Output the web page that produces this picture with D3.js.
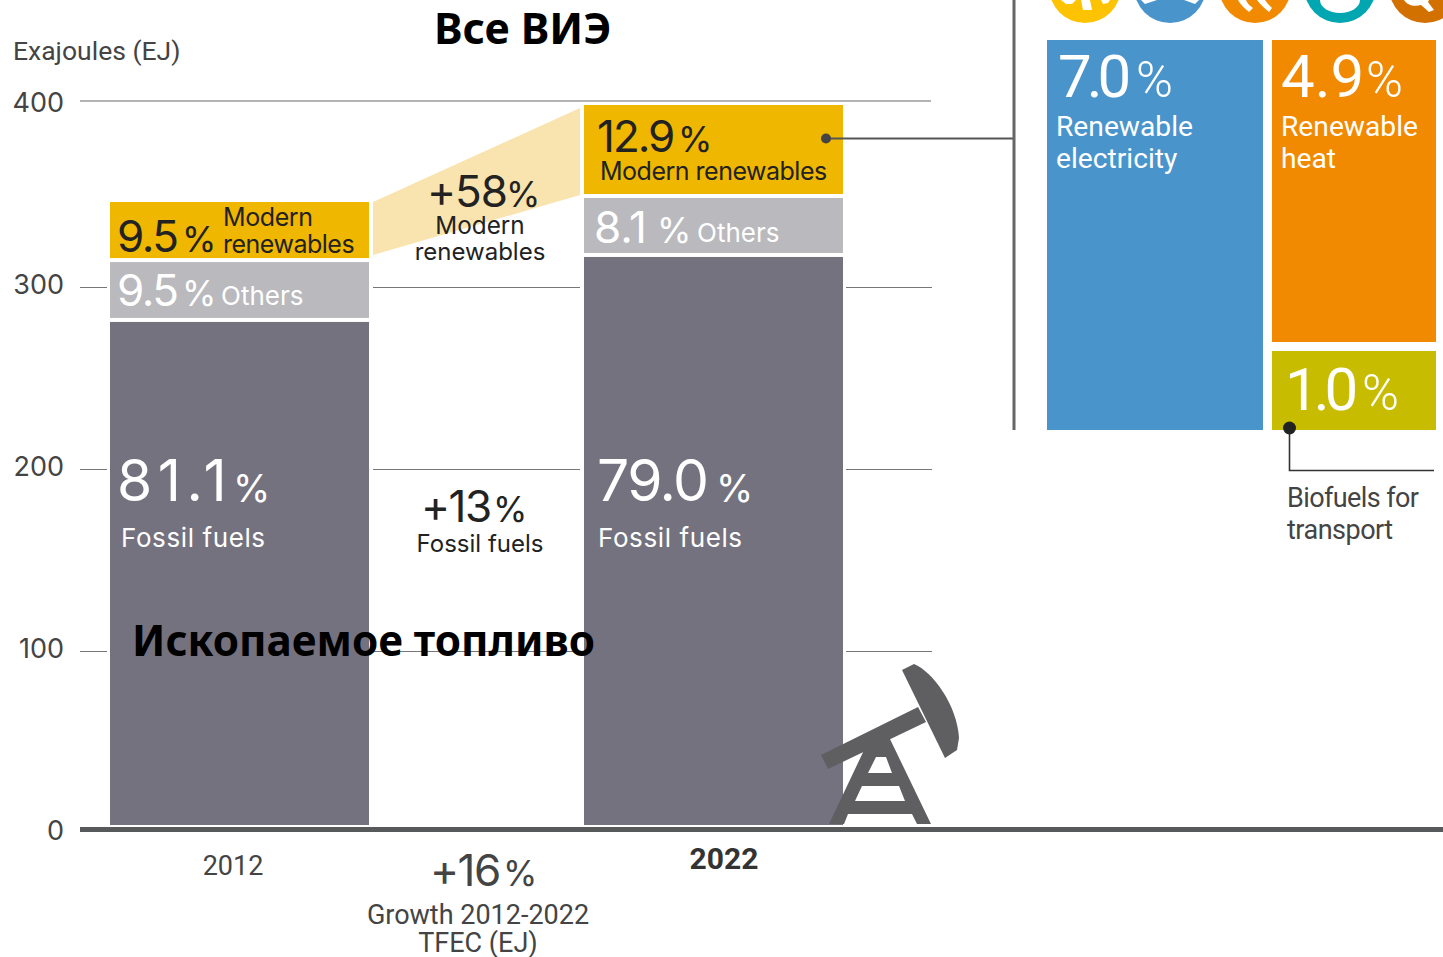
<!DOCTYPE html>
<html>
<head>
<meta charset="utf-8">
<script src="https://cdn.jsdelivr.net/npm/d3@7"></script>
<style>
html, body { margin: 0; padding: 0; background: #fff; }
svg { display: block; }
text { font-family: Inter, Roboto, sans-serif; }
</style>
</head>
<body>
<svg id="chart" width="1443" height="957"></svg>
<script>
// Values (EJ, cumulative top of each stack segment)
var years = ["2012", "2022"];
var segments = ["fossil", "others", "modern"];
var tops2012 = [279.7, 312.6, 345.6];
var tops2022 = [315.4, 347.8, 398.9];
var ticks = [0, 100, 200, 300, 400];

// Shares of the modern renewables block
var shareValues = [7.0, 4.9, 1.0];

var circleColors = ["#fdc300", "#4a94cc", "#f18a00", "#00a6b0", "#d27000"];

var colors = { fossil: "#75727f", others: "#b9b9be", modern: "#f0b700", wedge: "#f9e4b0" };
var svg = d3.select("#chart");

var y = d3.scaleLinear().domain([0, 400]).range([829, 101]);
var x = d3.scaleOrdinal().domain(years).range([110, 584]);
var barW = 259;

// grid lines, broken up around the bars
var gridSpans = [[80, 107], [373, 580], [846, 932]];
ticks.slice(1, 4).forEach(function(t) {
	gridSpans.forEach(function(s) {
		svg.append("line").attr("x1", s[0]).attr("x2", s[1])
			.attr("y1", y(t) + 4.5).attr("y2", y(t) + 4.5)
			.attr("stroke", "#77777a").attr("stroke-width", 1);
	});
});
svg.append("line").attr("x1", 80).attr("x2", 931).attr("y1", y(400)).attr("y2", y(400))
	.attr("stroke", "#9a9a9c").attr("stroke-width", 1.5);

// y axis labels
var axis = d3.axisLeft(y).tickValues(ticks).tickSize(0).tickPadding(0);
svg.append("g").attr("transform", "translate(64,2)").call(axis)
	.call(function(g) { g.select(".domain").remove(); })
	.selectAll("text").style("font-size", "27px").style("font-family", "Inter").attr("fill", "#444");

// wedge between the two modern renewables blocks
var wedge = [[373, y(tops2012[2]) + 2], [580, y(tops2022[2]) + 5], [580, y(tops2022[1]) - 1], [373, y(tops2012[1]) - 5]];
svg.append("polygon").attr("points", wedge.join(" ")).attr("fill", colors.wedge);

// stacked bars
function drawBar(year, tops) {
	segments.forEach(function(s, i) {
		var top = y(tops[i]) + 2;
		var bottom = i == 0 ? y(0) - 4 : y(tops[i - 1]) - 2;
		svg.append("rect").attr("x", x(year)).attr("width", barW)
			.attr("y", top).attr("height", bottom - top).attr("fill", colors[s]);
	});
}
drawBar("2012", tops2012);
drawBar("2022", tops2022);

// axis base line
svg.append("line").attr("x1", 80).attr("x2", 1443).attr("y1", 829.5).attr("y2", 829.5)
	.attr("stroke", "#58595b").attr("stroke-width", 5);

// treemap of the modern renewables share
var shareX = d3.scaleLinear().domain([0, 7.0, 12.9]).range([1047, 1267.5, 1436]);
var shareY = d3.scaleLinear().domain([0, 7.0]).range([430, 40]);
var stackY = d3.scaleLinear().domain([0, 1.0, 5.9]).range([430, 346.5, 40]);
var shareColors = ["#4a94cc", "#f18a00", "#c8bc00"];
svg.append("rect").attr("x", shareX(0)).attr("width", shareX(7) - shareX(0) - 4.5)
	.attr("y", shareY(shareValues[0])).attr("height", shareY(0) - shareY(shareValues[0])).attr("fill", shareColors[0]);
svg.append("rect").attr("x", shareX(7) + 4.5).attr("width", shareX(12.9) - shareX(7) - 4.5)
	.attr("y", stackY(shareValues[1] + shareValues[2])).attr("height", stackY(shareValues[2]) - stackY(shareValues[1] + shareValues[2]) - 4.5).attr("fill", shareColors[1]);
svg.append("rect").attr("x", shareX(7) + 4.5).attr("width", shareX(12.9) - shareX(7) - 4.5)
	.attr("y", stackY(shareValues[2]) + 4.5).attr("height", stackY(0) - stackY(shareValues[2]) - 4.5).attr("fill", shareColors[2]);

// circles cut off at the top
circleColors.forEach(function(c, i) {
	svg.append("circle").attr("cx", 1085 + i * 85).attr("cy", -13).attr("r", 36).attr("fill", c);
});
// white icon pieces inside the circles
svg.append("path").attr("d", "M1061 0L1066 4L1072 4L1076 0ZM1081 0L1083 10L1092 10L1090 0ZM1101 0L1103 4L1108 3L1110 0Z").attr("fill", "#fff");
svg.append("path").attr("d", "M1141 0L1145 4L1157 0ZM1184 0L1195 4L1199 0Z").attr("fill", "#fff");
svg.append("path").attr("d", "M1238 0C1240 4 1244 8 1249 12L1253 8C1250 6 1247 3 1246 0ZM1257 0C1260 4 1264 8 1269 12L1272 8C1270 6 1267 3 1265 0Z").attr("fill", "#fff");
svg.append("path").attr("d", "M1320 0A20 13 0 0 0 1360 0Z").attr("fill", "#fff");
svg.append("path").attr("d", "M1404 0C1407 5 1414 7 1421 5L1429 12L1434 10L1428 2L1429 0Z").attr("fill", "#fff");

// leader lines
svg.append("line").attr("x1", 826).attr("x2", 1014).attr("y1", 138.5).attr("y2", 138.5).attr("stroke", "#555").attr("stroke-width", 2);
svg.append("circle").attr("cx", 826).attr("cy", 138.5).attr("r", 5).attr("fill", "#444");
svg.append("line").attr("x1", 1014).attr("x2", 1014).attr("y1", 0).attr("y2", 430).attr("stroke", "#666").attr("stroke-width", 3);
svg.append("path").attr("d", "M1289.5 428V470.5H1434").attr("fill", "none").attr("stroke", "#333").attr("stroke-width", 1.6);
svg.append("circle").attr("cx", 1289.5).attr("cy", 428).attr("r", 6.5).attr("fill", "#222");

// pump jack icon: beam, head, frame
var jack = "#5f5f61";
svg.append("path").attr("fill", jack).attr("d", "M821 755L918 707L926 722L828 769Z");
svg.append("path").attr("fill", jack).attr("d", "M902 670L914 664C933 672 957 705 959 738L957 750L945 758Z");
svg.append("path").attr("fill", jack).attr("fill-rule", "evenodd").attr("d",
	"M829 824L866 746L889 737L931 824H917L912 814H848L844 824Z" +
	"M868 773H892L886 757H876Z" +
	"M855 801H905L899 786H862Z");

// labels
function label(t, px, py, size, color, extra) {
	var el = svg.append("text").attr("x", px).attr("y", py).style("font-size", size + "px").attr("fill", color).text(t);
	if (extra) extra(el);
	return el;
}
var dark = "#222", white = "#fff", grey = "#444";
function rob(el) { el.style("font-family", "Roboto"); }

label("Exajoules (EJ)", 13, 60, 26.5, grey, rob);

// 2012 bar
label("9.5", 117, 252, 44, dark).attr("letter-spacing", -1.5);
label("%", 182, 252, 35, dark);
label("Modern", 223, 226, 25, dark).attr("letter-spacing", -0.4);
label("renewables", 223, 253, 25, dark).attr("letter-spacing", -0.5);
label("9.5", 117, 306, 44, white).attr("letter-spacing", -1.5);
label("%", 182, 306, 35, white);
label("Others", 221, 305, 26, white);
label("81.1", 117, 501, 57, white).attr("letter-spacing", 5.5);
label("%", 233, 502, 38, white);
label("Fossil fuels", 121, 547, 26, white).attr("letter-spacing", 0.6);

// 2022 bar
label("12.9", 597, 152, 44, dark).attr("letter-spacing", -2);
label("%", 678, 152, 35, dark);
label("Modern renewables", 600, 180, 25, dark).attr("letter-spacing", -0.5);
label("8.1", 594, 243, 44, white);
label("%", 657, 243, 35, white);
label("Others", 697, 242, 26, white);
label("79.0", 597, 501, 57, white).attr("letter-spacing", -1.5);
label("%", 716, 502, 38, white);
label("Fossil fuels", 598, 547, 26, white).attr("letter-spacing", 0.6);

// middle column
label("+58", 427, 207, 44, dark).attr("letter-spacing", -1);
label("%", 506, 207, 35, dark);
label("Modern", 480, 234, 24.3, dark).attr("text-anchor", "middle");
label("renewables", 480, 260, 24, dark).attr("text-anchor", "middle");
label("+13", 421, 522, 44, dark).attr("letter-spacing", -1.5);
label("%", 493, 522, 35, dark);
label("Fossil fuels", 480, 552, 24, dark).attr("text-anchor", "middle");

// under the axis
label("2012", 233, 875, 27, grey, rob).attr("text-anchor", "middle");
label("2022", 724, 869, 30, "#333", rob).attr("text-anchor", "middle").style("font-weight", "bold");
label("+16", 430, 886, 44, grey).attr("letter-spacing", -1.5);
label("%", 503, 886, 35, grey);
label("Growth 2012-2022", 478, 924, 27, grey, rob).attr("text-anchor", "middle");
label("TFEC (EJ)", 478, 952, 27, grey, rob).attr("text-anchor", "middle");

// share labels
label("7.0", 1058, 97, 60, white, rob).attr("letter-spacing", -5);
label("%", 1136, 97, 50, white, rob).attr("font-weight", 300);
label("Renewable", 1056, 136, 28.2, white, rob);
label("electricity", 1056, 168, 28.2, white, rob);
label("4.9", 1281, 97, 60, white, rob);
label("%", 1366, 97, 50, white, rob).attr("font-weight", 300);
label("Renewable", 1281, 136, 28.2, white, rob);
label("heat", 1281, 168, 28.2, white, rob);
label("1.0", 1285, 410, 60, white, rob).attr("letter-spacing", -5);
label("%", 1362, 410, 50, white, rob).attr("font-weight", 300);
label("Biofuels for", 1287, 507, 27, grey, rob).attr("letter-spacing", -0.6);
label("transport", 1287, 539, 27, grey, rob).attr("letter-spacing", -0.5);

// overlaid Russian captions
function cap(el) { el.style("font-family", "'Noto Sans'").style("font-weight", "bold"); }
label("Все ВИЭ", 434, 44, 43, "#000", cap);
label("Ископаемое топливо", 132, 656, 42.3, "#000", cap);
</script>
</body>
</html>
